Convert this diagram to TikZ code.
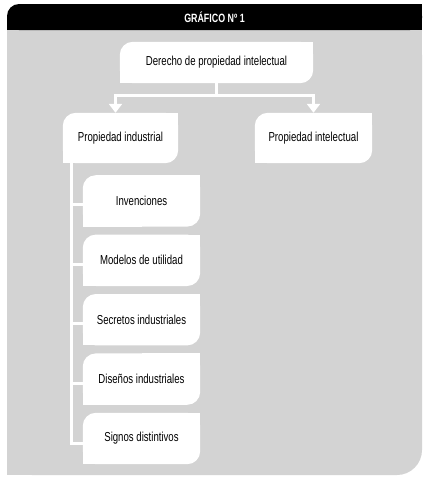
\documentclass[tikz,border=0pt]{standalone}
\usepackage{fontspec}
\setmainfont{Liberation Sans}[FakeStretch=0.74]
\usetikzlibrary{arrows.meta,positioning,backgrounds}
\definecolor{framegray}{RGB}{211,211,211}

\begin{document}
\begin{tikzpicture}[x=1pt, y=-1pt, >={Triangle[length=9pt,width=13pt]},
    card/.style={rectangle, minimum width=117pt, minimum height=51pt, inner sep=0pt, font=\fontsize{13}{15}\selectfont},
    link/.style={draw=white, line width=3pt}]
  \useasboundingbox (0,0) rectangle (429,480);

  % Nodes
  \node (title) [text=white, font=\bfseries\fontsize{12}{14}\selectfont] at (214.5,17) {GRÁFICO Nº 1};
  \node (top) [card, minimum width=193pt, minimum height=41pt] at (216.5,62.5) {Derecho de propiedad intelectual};
  \node (ind) [card, minimum width=115pt, minimum height=50pt] at (120.5,138) {Propiedad industrial};
  \node (int) [card, minimum height=50pt] at (313.5,138) {Propiedad intelectual};
  \node (inv) [card, below=12pt of ind, xshift=21pt] {Invenciones};
  \node (mod) [card, below=8pt of inv] {Modelos de utilidad};
  \node (sec) [card, below=8pt of mod] {Secretos industriales};
  \node (dis) [card, below=8pt of sec] {Diseños industriales};
  \node (sig) [card, below=8pt of dis] {Signos distintivos};

  % Frame and white cards
  \begin{scope}[on background layer]
    \fill[framegray, rounded corners=25pt] (7,30) rectangle (422,475);
    \fill[framegray] (7,30) rectangle (215,475);
    \fill[framegray] (215,30) rectangle (422,250);
    \fill[black, rounded corners=12pt] (7,4) rectangle (422,30);
    \fill[black] (100,4) rectangle (422,30);
    \fill[black] (7,17) rectangle (100,30);
    \foreach \n in {top,ind,int,inv,mod,sec,dis,sig} {
      \fill[white, rounded corners=13pt] (\n.south west) rectangle (\n.north east);
      \fill[white] (\n.north) rectangle (\n.east);
      \fill[white] (\n.south) rectangle (\n.west);
    }
  \end{scope}

  % Arrows
  \draw[link] (top.south) -- ++(0,12) coordinate (split);
  \draw[link, ->] (split) -| ([xshift=-5pt]ind.north);
  \draw[link, ->] (split) -| (int.north);

  \coordinate (spine) at ([xshift=9pt]ind.south west);
  \draw[link] (spine) |- ([yshift=-5pt]sig.west);
  \foreach \n in {inv,mod,sec,dis}
    \draw[link] ([yshift=-4pt]\n.west) -- ++(-11,0);
\end{tikzpicture}
\end{document}
